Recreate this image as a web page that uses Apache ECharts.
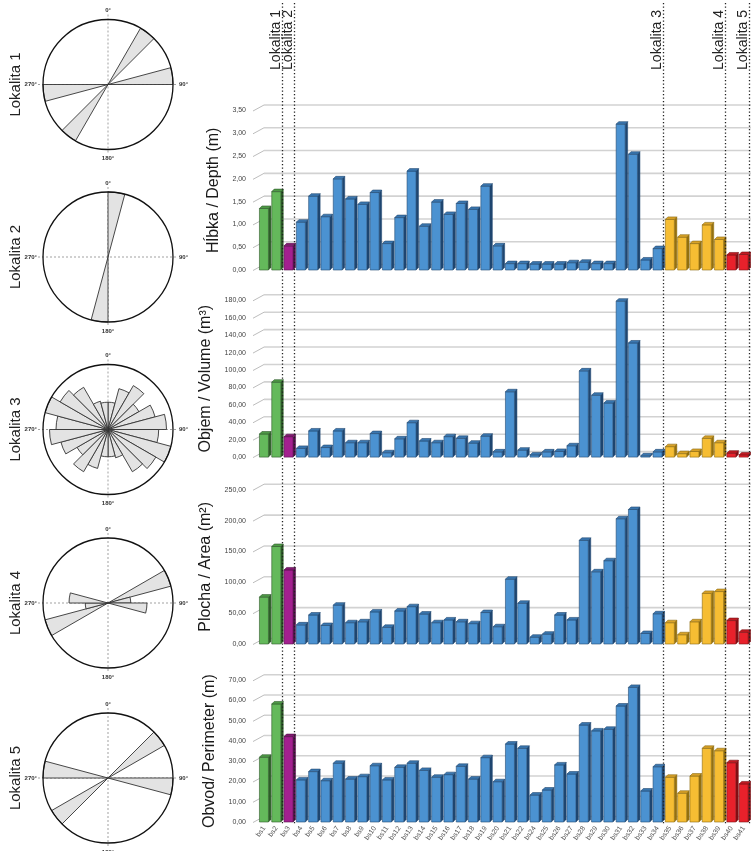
<!DOCTYPE html>
<html><head><meta charset="utf-8">
<script src="https://cdn.jsdelivr.net/npm/echarts@6/dist/echarts.min.js"></script>
<style>html,body{margin:0;padding:0;background:#fff}#c{width:751px;height:851px}</style>
</head><body><div id="c"></div><script>
// ---------- DATA ----------
const categories = ['bs1','bs2','bs3','bs4','bs5','bs6','bs7','bs8','bs9','bs10','bs11','bs12','bs13','bs14','bs15','bs16','bs17','bs18','bs19','bs20','bs21','bs22','bs24','bs25','bs26','bs27','bs28','bs29','bs30','bs31','bs32','bs33','bs34','bs35','bs36','bs37','bs38','bs39','bs40','bs41'];
const locality = [1,1,2,3,3,3,3,3,3,3,3,3,3,3,3,3,3,3,3,3,3,3,3,3,3,3,3,3,3,3,3,3,3,4,4,4,4,4,5,5];
const localityNames = ['Lokalita 1','Lokalita 2','Lokalita 3','Lokalita 4','Lokalita 5'];
const depth = [1.35,1.72,0.53,1.05,1.62,1.17,2.00,1.56,1.44,1.70,0.58,1.15,2.17,0.96,1.49,1.22,1.46,1.33,1.84,0.53,0.14,0.14,0.13,0.13,0.13,0.16,0.17,0.14,0.14,3.20,2.54,0.22,0.47,1.11,0.72,0.58,0.99,0.67,0.33,0.34];
const volume = [26.5,86,23.5,10,30,11,30,16.5,16.5,27,5,21,39.5,18.5,16.5,23.5,21.5,16,24,6,75,8,2.5,6,6.5,13,99,71,62,179,131,1.5,6,12,4,6.5,21.5,16.5,4.5,2.5];
const area = [76,158,120,31,47,30,63,34.5,36,52,27,53.5,60.5,48.5,34.5,39,36,33,51,28,105,66,11,16,47,39,168,117,135,203,218,17,49,34.5,15,36,82,85,38,19];
const perimeter = [32,58.3,42.2,20.8,24.9,20.4,29,21.2,22.4,27.8,20.8,27,29,25.5,22.1,23.4,27.5,21.2,31.8,19.9,38.5,36.4,13.3,15.8,28.2,23.7,47.9,45,45.8,57.3,66.5,15.3,27.3,22.1,14.2,22.7,36.4,35.2,29.3,18.8];
const depthTicks = [0,0.5,1,1.5,2,2.5,3,3.5];
const volumeTicks = [0,20,40,60,80,100,120,140,160,180];
const areaTicks = [0,50,100,150,200,250];
const perimeterTicks = [0,10,20,30,40,50,60,70];
const axisTitles = ['Hĺbka / Depth (m)','Objem / Volume (m³)','Plocha / Area (m²)','Obvod/ Perimeter (m)'];
// rose diagrams: 24 bins of 15 degrees, relative length
const roseBins = ['0','15','30','45','60','75','90','105','120','135','150','165','180','195','210','225','240','255','270','285','300','315','330','345'];
const rose1 = [0,0,1,0,0,1,0,0,0,0,0,0,0,0,1,0,0,1,0,0,0,0,0,0];
const rose2 = [1,0,0,0,0,0,0,0,0,0,0,0,1,0,0,0,0,0,0,0,0,0,0,0];
const rose3 = [0.42,0.65,0.78,0.55,0.75,0.9,0.78,1.0,0.85,0.75,0.45,0.42,0.42,0.62,0.75,0.55,0.75,0.9,0.8,1.0,0.85,0.75,0.45,0.42];
const rose4 = [0,0,0,0,1.0,0.35,0.6,0,0,0,0,0,0,0,0,0,1.0,0.35,0.6,0,0,0,0,0];
const rose5 = [0,0,0,1,0,0,1,0,0,0,0,0,0,0,0,1,0,0,1,0,0,0,0,0];

// ---------- STYLE / LAYOUT ----------
const palette = {
  1:{front:'#64b95b',side:'#2c5f27',top:'#4f9a47',edge:'#2f5a2b'},
  2:{front:'#a3208f',side:'#55104c',top:'#80196f',edge:'#55104c'},
  3:{front:'#4b92d1',side:'#1f4670',top:'#3a77b0',edge:'#234a72'},
  4:{front:'#f6bd33',side:'#94700f',top:'#d8a228',edge:'#8c6a10'},
  5:{front:'#e8212b',side:'#821015',top:'#c01a22',edge:'#7a1014'}
};
const charts = [
  {data:depth, ticks:depthTicks, top:110.5, height:159.5},
  {data:volume, ticks:volumeTicks, top:300.3, height:156.8},
  {data:area, ticks:areaTicks, top:489.75, height:154.25},
  {data:perimeter, ticks:perimeterTicks, top:680.3, height:141.7}
];
const roses = [rose1,rose2,rose3,rose4,rose5];
const roseCY = [84.5,257,429.5,603,778];
const roseCX = 108, roseR = 65;
const FONT = 'Liberation Sans, Arial, sans-serif';

const grid=[], xAxis=[], yAxis=[], series=[];
charts.forEach((c,k)=>{
  grid.push({left:258, width:492, top:c.top, height:c.height});
  xAxis.push({gridIndex:k, type:'category', data:categories, boundaryGap:true,
    axisLine:{show:false}, axisTick:{show:false},
    axisLabel: k===3 ? {show:true, interval:0, rotate:55, fontSize:7, color:'#555', margin:5, fontFamily:FONT} : {show:false}});
  const step = c.ticks[1]-c.ticks[0];
  yAxis.push({gridIndex:k, type:'value', min:c.ticks[0], max:c.ticks[c.ticks.length-1], interval:step,
    axisLine:{show:false}, axisTick:{show:false}, splitLine:{show:false},
    axisLabel:{fontSize:7, color:'#444', margin:12, fontFamily:FONT, padding:[7,0,0,0],
      formatter:v=>v.toFixed(2).replace('.',',')},
    name:axisTitles[k], nameLocation:'middle', nameRotate:90, nameGap:34,
    nameTextStyle:{fontSize:16, color:'#1a1a1a', fontFamily:FONT}});
  // gridlines (back wall with perspective tick)
  series.push({type:'custom', xAxisIndex:k, yAxisIndex:k, clip:false, silent:true, z:1,
    data:c.ticks.map(t=>[0,t]),
    renderItem:(params,api)=>{
      const cs = params.coordSys; const y = api.coord([0, api.value(1)])[1];
      return {type:'group', children:[
        {type:'line', shape:{x1:cs.x-5, y1:y+0.5, x2:cs.x+6, y2:y-5.5}, style:{stroke:'#bdbdbd', lineWidth:1}},
        {type:'line', shape:{x1:cs.x+6, y1:y-5.5, x2:cs.x+cs.width+2, y2:y-5.5}, style:{stroke:'#d2d2d2', lineWidth:1.6}}
      ]};
    }});
  // 3D bars
  series.push({type:'custom', xAxisIndex:k, yAxisIndex:k, clip:false, silent:true, z:3,
    data:c.data.map((v,i)=>[i,v]),
    renderItem:(params,api)=>{
      const i = api.value(0), v = api.value(1);
      const b = api.coord([i,0]), t = api.coord([i,v]);
      const col = palette[locality[i]];
      const w = 9, d = 2.5; const x0 = b[0]-4.7; const yt = t[1], yb = b[1];
      return {type:'group', children:[
        {type:'polygon', shape:{points:[[x0+w,yt],[x0+w+d,yt-d],[x0+w+d,yb-d],[x0+w,yb]]}, style:{fill:col.side, stroke:col.side, lineWidth:0.5}},
        {type:'rect', shape:{x:x0, y:yt, width:w, height:yb-yt}, style:{fill:col.front, stroke:col.edge, lineWidth:0.6}},
        {type:'polygon', shape:{points:[[x0,yt],[x0+d,yt-d],[x0+w+d,yt-d],[x0+w,yt]]}, style:{fill:col.top, stroke:col.edge, lineWidth:0.6}}
      ]};
    }});
});

const polar=[], angleAxis=[], radiusAxis=[];
roses.forEach((r,k)=>{
  polar.push({center:[roseCX, roseCY[k]], radius:roseR});
  angleAxis.push({polarIndex:k, type:'category', data:roseBins, startAngle:90, clockwise:true, boundaryGap:true,
    axisLine:{show:true, lineStyle:{color:'#111', width:1.3}}, axisTick:{show:false}, axisLabel:{show:false}, splitLine:{show:false}, z:5});
  radiusAxis.push({polarIndex:k, type:'value', min:0, max:1, show:false});
  series.push({type:'bar', coordinateSystem:'polar', polarIndex:k, data:r, barCategoryGap:'0%', barGap:'0%', silent:true, z:3,
    itemStyle:{color:'#e3e3e3', borderColor:'#333', borderWidth:0.9}});
});

// rose decorations
const graphic=[];
roseCY.forEach((cy,k)=>{
  const cx = roseCX, L = roseR+5;
  graphic.push({type:'line', silent:true, z:2, shape:{x1:cx,y1:cy-L,x2:cx,y2:cy+L}, style:{stroke:'#8a8a8a', lineWidth:0.8, lineDash:[2,2]}});
  graphic.push({type:'line', silent:true, z:2, shape:{x1:cx-L,y1:cy,x2:cx+L,y2:cy}, style:{stroke:'#8a8a8a', lineWidth:0.8, lineDash:[2,2]}});
  const ls = {fontSize:6, fontWeight:'bold', fill:'#333', fontFamily:FONT};
  graphic.push({type:'text', silent:true, x:cx, y:cy-L-1, style:Object.assign({text:'0°', align:'center', verticalAlign:'bottom'}, ls)});
  graphic.push({type:'text', silent:true, x:cx, y:cy+L+1, style:Object.assign({text:'180°', align:'center', verticalAlign:'top'}, ls)});
  graphic.push({type:'text', silent:true, x:cx+L+1, y:cy, style:Object.assign({text:'90°', align:'left', verticalAlign:'middle'}, ls)});
  graphic.push({type:'text', silent:true, x:cx-L-1, y:cy, style:Object.assign({text:'270°', align:'right', verticalAlign:'middle'}, ls)});
  graphic.push({type:'text', silent:true, x:16, y:cy, rotation:Math.PI/2, style:{text:localityNames[k], align:'center', verticalAlign:'middle', fontSize:15, fill:'#222', fontFamily:FONT}});
});

const chart = echarts.init(document.getElementById('c'), null, {renderer:'canvas'});
chart.setOption({animation:false, backgroundColor:'#fff', grid, xAxis, yAxis, polar, angleAxis, radiusAxis, series, graphic});

// locality separators (dotted lines) computed from the category axis
const centers = categories.map(c=>chart.convertToPixel({xAxisIndex:3}, c));
const bw = centers[1]-centers[0];
const yBottom = chart.convertToPixel({yAxisIndex:3}, 0) + 3;
const extra=[];
for (let i=0;i<categories.length;i++){
  if (i===categories.length-1 || locality[i+1]!==locality[i]){
    const x = Math.round(centers[i]+bw/2 - 0.8)+0.5;
    extra.push({type:'line', silent:true, z:10, shape:{x1:x,y1:3,x2:x,y2:yBottom}, style:{stroke:'#222', lineWidth:1.3, lineDash:[1.3,2.2]}});
    extra.push({type:'text', silent:true, z:10, x:x-6.5, y:10, rotation:Math.PI/2, style:{text:localityNames[locality[i]-1], align:'right', verticalAlign:'middle', fontSize:14, fill:'#222', fontFamily:FONT}});
  }
}
chart.setOption({graphic: graphic.concat(extra)});
</script></body></html>
